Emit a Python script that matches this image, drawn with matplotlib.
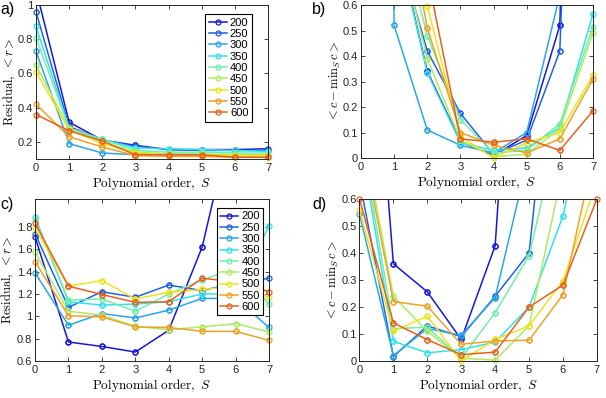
"""
Residual and deviation vs polynomial order, four panels (a-d).
"""

import matplotlib

matplotlib.use("Agg")

import matplotlib.pyplot as plt
import numpy as np

plt.rcParams["font.family"] = ["Liberation Sans", "DejaVu Sans"]
plt.rcParams["mathtext.fontset"] = "cm"

# polynomial order S (x axis of every panel)
orders = [0, 1, 2, 3, 4, 5, 6, 7]
# series labels (legend)
sizes = ["200", "250", "300", "350", "400", "450", "500", "550", "600"]
colors = ["#1717dc", "#1f62e6", "#2aa6ea", "#2fe3ee", "#72eea8",
          "#abec62", "#eee31e", "#f0a226", "#e8621e"]

# panel a: residual <r>
resid_a = [
    [1.09, 0.315, 0.21, 0.18, 0.155, 0.155, 0.155, 0.16],
    [0.96, 0.29, 0.21, 0.175, 0.155, 0.15, 0.15, 0.15],
    [0.73, 0.19, 0.135, 0.125, 0.125, 0.12, 0.12, 0.12],
    [0.875, 0.28, 0.215, 0.165, 0.16, 0.155, 0.15, 0.145],
    [0.81, 0.28, 0.215, 0.15, 0.14, 0.14, 0.135, 0.135],
    [0.65, 0.275, 0.2, 0.14, 0.13, 0.13, 0.125, 0.125],
    [0.61, 0.27, 0.19, 0.135, 0.125, 0.125, 0.12, 0.12],
    [0.42, 0.23, 0.17, 0.12, 0.115, 0.115, 0.11, 0.11],
    [0.36, 0.265, 0.205, 0.125, 0.125, 0.125, 0.11, 0.11],
]

# panel b: <c - min_S c>
dev_b = [
    [3.0, 0.9, 0.34, 0.065, 0.01, 0.088, 0.52, 5.0],
    [3.0, 0.87, 0.42, 0.175, 0.015, 0.07, 0.42, 4.0],
    [10.0, 0.52, 0.11, 0.05, 0.02, 0.1, 0.64, 3.0],
    [3.0, 0.9, 0.335, 0.06, 0.03, 0.04, 0.12, 0.565],
    [3.0, 1.0, 0.48, 0.15, 0.02, 0.03, 0.135, 0.515],
    [3.0, 0.92, 0.39, 0.07, 0.005, 0.015, 0.115, 0.49],
    [3.0, 1.5, 0.597, 0.085, 0.0, 0.06, 0.1, 0.325],
    [3.0, 1.2, 0.51, 0.1, 0.05, 0.02, 0.075, 0.31],
    [3.0, 1.5, 0.72, 0.075, 0.062, 0.075, 0.03, 0.185],
]

# panel c: residual <r>
resid_c = [
    [1.71, 0.77, 0.73, 0.68, 0.875, 1.62, 2.9, 3.5],
    [1.74, 1.08, 1.22, 1.17, 1.28, 1.23, 1.3, 1.34],
    [1.39, 0.92, 1.025, 0.985, 1.055, 1.16, 1.16, 0.9],
    [1.89, 1.13, 1.1, 1.11, 1.13, 1.2, 1.2, 1.81],
    [1.87, 1.145, 1.155, 1.045, 1.2, 1.325, 1.43, 1.11],
    [1.575, 1.045, 1.01, 0.91, 0.88, 0.905, 0.935, 0.86],
    [1.79, 1.27, 1.32, 1.155, 1.215, 1.24, 1.27, 1.17],
    [1.49, 1.005, 0.995, 0.905, 0.9, 0.865, 0.865, 0.785],
    [1.835, 1.27, 1.195, 1.125, 1.13, 1.34, 1.31, 1.22],
]

# panel d: <c - min_S c>
dev_d = [
    [1.96, 0.36, 0.256, 0.08, 0.427, 2.3, 4.0, 5.0],
    [0.67, 0.016, 0.13, 0.09, 0.24, 0.4, 1.58, 3.0],
    [0.544, 0.02, 0.12, 0.095, 0.235, 0.77, 2.0, 3.0],
    [0.836, 0.073, 0.03, 0.042, 0.07, 0.2, 0.537, 1.14],
    [0.87, 0.12, 0.125, 0.01, 0.179, 0.39, 0.93, 2.0],
    [0.907, 0.24, 0.11, 0.01, 0.003, 0.13, 0.71, 1.5],
    [0.559, 0.11, 0.166, 0.0, 0.08, 0.13, 0.297, 0.666],
    [0.864, 0.22, 0.203, 0.062, 0.074, 0.077, 0.246, 0.82],
    [0.6, 0.141, 0.079, 0.0235, 0.033, 0.2, 0.281, 0.6],
]

XLABEL = r"$\mathrm{Polynomial\ order},\ S$"
RLABEL = r"$\mathrm{Residual},\ <r>$"
CLABEL = r"$<c-\mathrm{min}_S\, c>$"


def draw_panel(ax, data, ylim, yticks, ylabel, legend_at=None):
    x = np.asarray(orders, dtype=float)
    for vals, lab, col in zip(data, sizes, colors):
        y = np.asarray(vals, dtype=float)
        ax.plot(x, y, "-", color=col, lw=1.1, label=lab,
                marker="o", ms=3.6, mfc="none", mew=0.9)
        # markers on the frame edge are drawn whole, like MATLAB does
        keep = (y >= ylim[0] - 1e-9) & (y <= ylim[1] + 1e-9)
        ax.plot(x[keep], y[keep], "o", ms=3.6, mfc="none", mew=0.9,
                color=col, clip_on=False)

    ax.set_xlim(0, 7)
    ax.set_ylim(*ylim)
    ax.set_xticks(orders)
    ax.set_yticks(yticks)
    ax.set_yticklabels([f"{t:g}" for t in yticks])
    ax.tick_params(direction="in", length=3, width=0.6, labelsize=8,
                   top=True, right=True, pad=3, colors="#262626")
    ax.tick_params(axis="y", pad=2)
    for sp in ax.spines.values():
        sp.set_linewidth(0.7)
        sp.set_color("#262626")
    ax.set_xlabel(XLABEL, fontsize=9.5, labelpad=1)
    ax.set_ylabel(ylabel, fontsize=9.0, labelpad=0)

    if legend_at is not None:
        leg = ax.legend(loc="upper right", bbox_to_anchor=legend_at,
                        fontsize=8, handlelength=1.6, handletextpad=0.3,
                        borderpad=0.3, labelspacing=0.12, borderaxespad=0,
                        fancybox=False, framealpha=1, edgecolor="black")
        leg.get_frame().set_linewidth(0.8)


fig = plt.figure(figsize=(6.06, 3.98), dpi=100)

ax_a = fig.add_axes([0.0594, 0.6005, 0.3828, 0.3869])
ax_b = fig.add_axes([0.5957, 0.6030, 0.3828, 0.3844])
ax_c = fig.add_axes([0.0578, 0.0930, 0.3861, 0.4070])
ax_d = fig.add_axes([0.5932, 0.0930, 0.3918, 0.4070])

draw_panel(ax_a, resid_a, (0.1, 1.0), [0.2, 0.4, 0.6, 0.8, 1.0], RLABEL,
           legend_at=(0.93, 0.94))
draw_panel(ax_b, dev_b, (0.0, 0.6), [0, 0.1, 0.2, 0.3, 0.4, 0.5, 0.6], CLABEL)
draw_panel(ax_c, resid_c, (0.6, 2.05), [0.6, 0.8, 1.0, 1.2, 1.4, 1.6, 1.8],
           RLABEL, legend_at=(0.975, 0.944))
draw_panel(ax_d, dev_d, (0.0, 0.6), [0, 0.1, 0.2, 0.3, 0.4, 0.5, 0.6], CLABEL)

# y labels sit just right of the figure's left edge, as in the reference
ax_a.yaxis.set_label_coords(-0.078, 0.5)
ax_c.yaxis.set_label_coords(-0.082, 0.5)

for lab, (fx, fy) in zip(["a)", "b)", "c)", "d)"],
                         [(0.0, 0.995), (0.515, 0.995), (0.0, 0.505), (0.515, 0.505)]):
    fig.text(fx, fy, lab, fontsize=11.5, ha="left", va="top")

fig.savefig("out.png", dpi=100)
plt.close(fig)
